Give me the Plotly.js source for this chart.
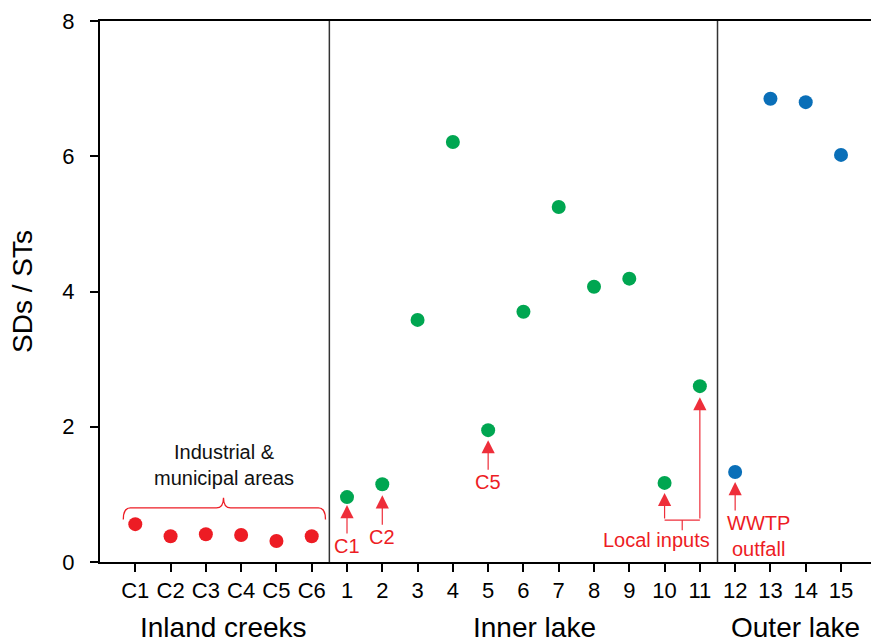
<!DOCTYPE html>
<html><head><meta charset="utf-8">
<script src="https://cdn.plot.ly/plotly-3.0.1.min.js"></script>
<style>html,body{margin:0;padding:0;background:#fff}</style>
</head><body>
<div id="chart" style="width:871px;height:642px"></div>
<script>
const creekLabels = ["C1","C2","C3","C4","C5","C6"];
const creekValues = [0.56,0.38,0.41,0.40,0.31,0.38];
const innerLabels = ["1","2","3","4","5","6","7","8","9","10","11"];
const innerValues = [0.96,1.15,3.58,6.21,1.95,3.70,5.25,4.07,4.19,1.17,2.60];
const outerLabels = ["12","13","14","15"];
const outerValues = [1.33,6.85,6.80,6.02];
const groupNames = ["Inland creeks","Inner lake","Outer lake"];
const yTicks = [0,2,4,6,8];

const allLabels = creekLabels.concat(innerLabels, outerLabels);
const allValues = creekValues.concat(innerValues, outerValues);
const xCreek = creekLabels.map((_, i) => i);
const xInner = innerLabels.map((_, i) => creekLabels.length + i);
const xOuter = outerLabels.map((_, i) => creekLabels.length + innerLabels.length + i);

const RED = "#ED1C24", GREEN = "#00A651", BLUE = "#0A6FB8", ARROW = "#EE2E3A";
const mk = c => ({color: c, size: 14});
const traces = [
  {x: xCreek, y: creekValues, mode: "markers", type: "scatter", marker: mk(RED), hoverinfo: "skip"},
  {x: xInner, y: innerValues, mode: "markers", type: "scatter", marker: mk(GREEN), hoverinfo: "skip"},
  {x: xOuter, y: outerValues, mode: "markers", type: "scatter", marker: mk(BLUE), hoverinfo: "skip"}
];

const FONT = "Liberation Sans, Arial, sans-serif";
const xi = lab => allLabels.indexOf(lab);
const yv = lab => allValues[xi(lab)];
const head = {arrowhead: 2, arrowsize: 2.2, arrowwidth: 1.2, arrowcolor: ARROW};

function arrowNote(text, lab, standoff, ay) {
  return Object.assign({x: xi(lab), y: yv(lab), xref: "x", yref: "y", text: text, showarrow: true,
    standoff: standoff, ax: 0, ay: ay, font: {family: FONT, size: 20, color: RED}}, head);
}
const bracketY = 0.62;
const annotations = [
  arrowNote("C1", "1", 8, 49),
  arrowNote("C2", "2", 11, 53),
  arrowNote("C5", "5", 10, 52),
  Object.assign({x: xi("10"), y: yv("10"), xref: "x", yref: "y", showarrow: true, text: "",
   standoff: 10, axref: "x", ayref: "y", ax: xi("10"), ay: bracketY}, head),
  Object.assign({x: xi("11"), y: yv("11"), xref: "x", yref: "y", showarrow: true, text: "",
   standoff: 11, axref: "x", ayref: "y", ax: xi("11"), ay: bracketY}, head),
  {x: xi("10") - 0.24, y: 0.325, xref: "x", yref: "y", showarrow: false, text: "Local inputs",
   font: {family: FONT, size: 20, color: RED}},
  Object.assign({x: xi("12"), y: yv("12"), xref: "x", yref: "y", showarrow: true, text: "",
   standoff: 10, ax: 0, ay: 40}, head),
  {x: xi("12") + 0.65, y: 0.39, xref: "x", yref: "y", showarrow: false, text: "WWTP<br>outfall",
   font: {family: FONT, size: 20, color: RED}, align: "center"},
  {x: 2.5, y: 1.44, xref: "x", yref: "y", showarrow: false, text: "Industrial &amp;<br>municipal areas",
   font: {family: FONT, size: 20, color: "#111"}, align: "center"}
];
const groupX = [2.5, 11.3, 18.7];
groupNames.forEach((g, i) => annotations.push({x: groupX[i], y: 0, xref: "x", yref: "paper", yanchor: "middle",
  yshift: -65, showarrow: false, text: g, font: {family: FONT, size: 28, color: "#000"}}));

// curly brace over creeks
const bx0 = -0.34, bx1 = 5.39, bm = 2.5, bTop = 0.80, bEnd = 0.63, bPeak = 0.95;
const bracePath = `M ${bx0},${bEnd} Q ${bx0},${bTop} ${bx0 + 0.2},${bTop} L ${bm - 0.2},${bTop} Q ${bm},${bTop} ${bm},${bPeak} Q ${bm},${bTop} ${bm + 0.2},${bTop} L ${bx1 - 0.2},${bTop} Q ${bx1},${bTop} ${bx1},${bEnd}`;

const shapes = [
  {type: "line", xref: "x", yref: "paper", x0: 5.5, x1: 5.5, y0: 0, y1: 1, line: {color: "#333", width: 1.5}},
  {type: "line", xref: "x", yref: "paper", x0: 16.5, x1: 16.5, y0: 0, y1: 1, line: {color: "#333", width: 1.5}},
  {type: "path", xref: "x", yref: "y", path: bracePath, line: {color: RED, width: 1.3}},
  {type: "line", xref: "x", yref: "y", x0: xi("10"), x1: xi("11"), y0: bracketY, y1: bracketY, line: {color: ARROW, width: 1.2}},
  {type: "line", xref: "x", yref: "y", x0: xi("10") + 0.5, x1: xi("10") + 0.5, y0: bracketY, y1: bracketY - 0.15, line: {color: ARROW, width: 1.2}}
];

const layout = {
  width: 871, height: 642,
  margin: {l: 100, r: 0, t: 21, b: 80},
  paper_bgcolor: "#fff", plot_bgcolor: "#fff",
  showlegend: false,
  font: {family: FONT, color: "#000"},
  xaxis: {range: [-1, 20.85], tickvals: allLabels.map((_, i) => i), ticktext: allLabels,
    showgrid: false, zeroline: false, showline: true, linecolor: "#000", linewidth: 2, mirror: true,
    ticks: "outside", ticklen: 8, tickwidth: 2, tickcolor: "#000",
    tickfont: {family: FONT, size: 22, color: "#000"}, fixedrange: true},
  yaxis: {range: [0, 8], tickvals: yTicks, showgrid: false, zeroline: false, showline: true,
    linecolor: "#000", linewidth: 2, ticks: "outside", ticklen: 8, tickwidth: 2, tickcolor: "#000",
    ticklabelstandoff: 11,
    tickfont: {family: FONT, size: 22, color: "#000"},
    title: {text: "SDs / STs", font: {family: FONT, size: 28, color: "#000"}, standoff: 22}, fixedrange: true},
  annotations: annotations,
  shapes: shapes
};
Plotly.newPlot("chart", traces, layout, {displayModeBar: false, staticPlot: true});
</script>
</body></html>
